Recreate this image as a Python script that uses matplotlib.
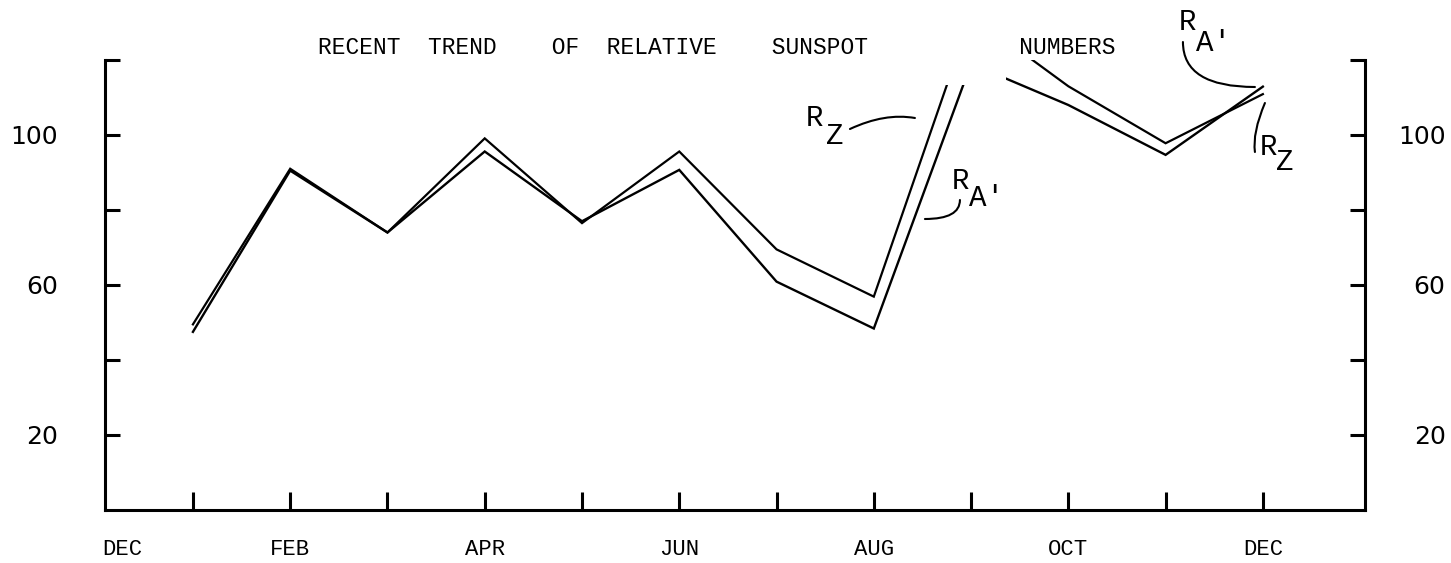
import matplotlib
matplotlib.use("Agg")
import matplotlib.pyplot as plt
from matplotlib.path import Path
from matplotlib.patches import PathPatch

# ---------------- data ----------------
month_pos = [1, 2, 3, 4, 5, 6, 7, 8, 9, 10, 11, 12]          # JAN .. DEC
rz = [49.5, 91.0, 74.0, 99.1, 76.5, 95.6, 69.5, 56.9, 132.0, 113.0, 97.8, 110.9]
ra = [47.5, 90.5, 74.0, 95.6, 77.0, 90.7, 60.9, 48.4, 119.0, 108.0, 94.7, 112.9]
x_labels = ["DEC", "FEB", "APR", "JUN", "AUG", "OCT", "DEC"]
x_label_pos = [0.27, 2, 4, 6, 8, 10, 12]
y_ticks = [20, 40, 60, 80, 100, 120]
y_labels = ["20", "", "60", "", "100", ""]
title = "RECENT  TREND    OF  RELATIVE    SUNSPOT           NUMBERS"

W, H = 1451, 563
fig = plt.figure(figsize=(W / 100, H / 100), dpi=100)
ax = fig.add_axes([105 / W, 1 - 510 / H, (1365 - 105) / W, (510 - 60) / H])
XL, XR = 0.096, 13.05
ax.set_xlim(XL, XR)
ax.set_ylim(0, 120)

mono = "Liberation Mono"
LW = 2.2

# region where the curves leave the frame (break around the title)
gx0, gx1, gy = 8.7, 9.36, 113.3
clip_verts = [(XL, 0), (XR, 0), (XR, 120), (gx1, 120), (gx1, gy), (gx0, gy),
              (gx0, 120), (XL, 120), (XL, 0)]
clip_patch = PathPatch(Path(clip_verts, closed=True), transform=ax.transData,
                       facecolor="none", edgecolor="none")

for series, lw in [(rz, 1.6), (ra, 1.7)]:
    ln, = ax.plot(month_pos, series, color="black", lw=lw, solid_joinstyle="miter")
    ln.set_clip_path(clip_patch)

# spines
for s in ["left", "bottom", "right"]:
    ax.spines[s].set_linewidth(LW)
ax.spines["top"].set_visible(False)

# x ticks (marks at each month, labels at alternate months)
ax.xaxis.remove_overlapping_locs = False
ax.set_xticks(month_pos)
ax.set_xticklabels([""] * len(month_pos))
ax.tick_params(axis="x", which="major", direction="in", length=13, width=LW)
ax.set_xticks(x_label_pos, minor=True)
ax.set_xticklabels(x_labels, minor=True, fontfamily=mono, fontsize=16)
ax.tick_params(axis="x", which="minor", length=0, pad=21)

# left y ticks
ax.set_yticks(y_ticks)
ax.set_yticklabels(y_labels, fontfamily="DejaVu Sans", fontsize=18)
ax.tick_params(axis="y", direction="in", length=11, width=LW, pad=34)

# right y ticks
ax2 = ax.twinx()
ax2.set_ylim(0, 120)
for s in ax2.spines.values():
    s.set_visible(False)
ax2.set_yticks(y_ticks)
ax2.set_yticklabels(y_labels, fontfamily="DejaVu Sans", fontsize=18)
ax2.tick_params(axis="y", direction="in", length=11, width=LW, pad=58)
for lab in ax2.get_yticklabels():
    lab.set_horizontalalignment("right")

# title
fig.text(318 / W, 1 - 47 / H, title, ha="left", va="center",
         fontfamily=mono, fontsize=16.5)

# helpers to convert reference pixel positions to data coordinates
def dx(px):
    return (px - 95.7) / 97.27

def dy(py):
    return (510 - py) / 3.75

def label(rx, ry, sub, sx, sy):
    ax.text(dx(rx), dy(ry), "R", ha="center", va="center", fontfamily=mono,
            fontsize=21, clip_on=False)
    ax.text(dx(sx), dy(sy), sub, ha="left", va="center", fontfamily=mono,
            fontsize=21, clip_on=False)

def curve(p0, p1, style):
    ax.annotate("", xy=(dx(p1[0]), dy(p1[1])), xytext=(dx(p0[0]), dy(p0[1])),
                xycoords="data", textcoords="data", annotation_clip=False,
                arrowprops=dict(arrowstyle="-", connectionstyle=style,
                                lw=1.5, color="black", shrinkA=0, shrinkB=0))

label(815, 118, "Z", 826, 136)
curve((850, 129), (915, 118), "angle3,angleA=25,angleB=-10")

label(961, 181, "A'", 969, 198)
curve((925, 219), (960, 200), "angle3,angleA=0,angleB=90")

label(1188, 22, "A'", 1196, 43)
curve((1183, 42), (1255, 87), "angle3,angleA=90,angleB=0")

label(1269, 147, "Z", 1276, 162)
curve((1265, 103), (1255, 152), "angle3,angleA=67,angleB=98")

fig.savefig("out.png", dpi=100)
